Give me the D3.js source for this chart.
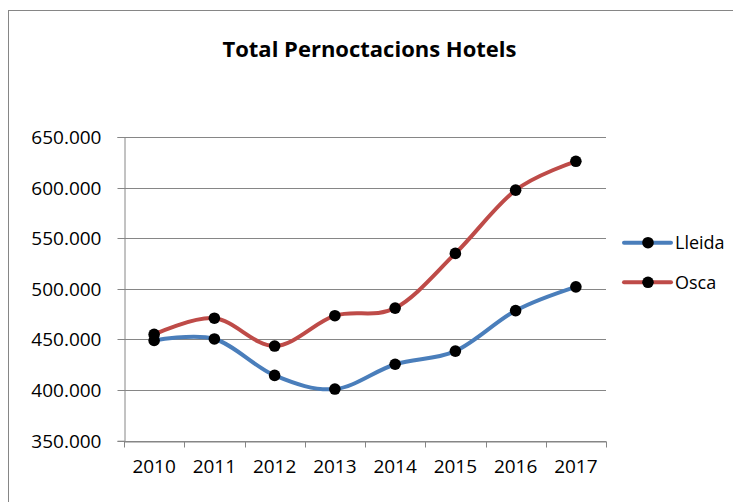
<!DOCTYPE html>
<html><head><meta charset="utf-8">
<script src="https://cdn.jsdelivr.net/npm/d3@7"></script>
<style>body{margin:0;background:#fff}svg{display:block}</style>
</head><body>
<svg id="c" width="733" height="502"></svg>
<script>
const years = ["2010","2011","2012","2013","2014","2015","2016","2017"];
const lleida = [449000, 450500, 414500, 401000, 425500, 438500, 478500, 502000];
const osca = [455000, 471000, 443500, 473500, 481000, 535000, 597500, 626000];
const yTicks = [350000, 400000, 450000, 500000, 550000, 600000, 650000];
const seriesNames = ["Lleida", "Osca"];
const seriesColors = ["#4a7ebb", "#be4b48"];
const title = "Total Pernoctacions Hotels";

(function () {
const svg = d3.select("#c");
const font = "'Open Sans', sans-serif";
svg.append("rect").attr("x", 8.5).attr("y", 10.5).attr("width", 760).attr("height", 520)
  .attr("fill", "#fff").attr("stroke", "#868686").attr("stroke-width", 1);

const pL = 124, pR = 606, pT = 137, pB = 440.7;
const x = d3.scaleBand().domain(years).range([pL, pR]);
const y = d3.scaleLinear().domain([350000, 650000]).range([pB, pT]);
const loc = d3.formatLocale({decimal: ",", thousands: ".", grouping: [3], currency: ["", "€"]});
const fmt = loc.format(",d");

svg.append("g").selectAll("line").data(yTicks).join("line")
  .attr("x1", pL).attr("x2", pR)
  .attr("y1", d => Math.round(y(d)) + 0.5).attr("y2", d => Math.round(y(d)) + 0.5)
  .attr("stroke", "#868686").attr("stroke-width", 1);

const ya = svg.append("g").attr("transform", `translate(${pL + 0.5},0)`)
  .call(d3.axisLeft(y).tickValues(yTicks).tickFormat(fmt).tickSize(7).tickPadding(16));
ya.select(".domain").attr("stroke", "#868686");
ya.selectAll(".tick line").attr("stroke", "#868686");
ya.selectAll(".tick").attr("transform", d => `translate(0,${Math.round(y(d)) + 0.5})`);
ya.selectAll("text").attr("font-family", font).attr("font-size", 19).attr("fill", "#000");

const xa = svg.append("g").attr("transform", `translate(0,${Math.round(pB) + 0.5})`)
  .call(d3.axisBottom(x).tickSize(0).tickPadding(18));
xa.select(".domain").attr("stroke", "#868686");
xa.selectAll("text").attr("font-family", font).attr("font-size", 19).attr("fill", "#000");
const bounds = years.map(d => x(d)).concat([pR]);
xa.append("g").selectAll("line").data(bounds).join("line")
  .attr("x1", d => Math.round(d) + 0.5).attr("x2", d => Math.round(d) + 0.5)
  .attr("y1", 0).attr("y2", 6).attr("stroke", "#868686");

const line = d3.line().x((d, i) => x(years[i]) + x.bandwidth() / 2).y(d => y(d))
  .curve(d3.curveCardinal.tension(0));
[lleida, osca].forEach((s, k) => {
  svg.append("path").datum(s).attr("d", line).attr("fill", "none")
    .attr("stroke", seriesColors[k]).attr("stroke-width", 4).attr("stroke-linecap", "round");
});
[lleida, osca].forEach((s, k) => {
  svg.append("g").selectAll("circle").data(s).join("circle")
    .attr("cx", (d, i) => x(years[i]) + x.bandwidth() / 2).attr("cy", d => y(d))
    .attr("r", 5.8).attr("fill", "#000");
});

const lg = svg.append("g");
seriesNames.forEach((n, k) => {
  const ly = 242.7 + k * 39.6;
  lg.append("line").attr("x1", 624).attr("x2", 671).attr("y1", ly).attr("y2", ly)
    .attr("stroke", seriesColors[k]).attr("stroke-width", 4).attr("stroke-linecap", "round");
  lg.append("circle").attr("cx", 648).attr("cy", ly).attr("r", 5.8).attr("fill", "#000");
  lg.append("text").attr("x", 675).attr("y", ly + 6.5).text(n)
    .attr("font-family", font).attr("font-size", 18).attr("fill", "#000");
});

svg.append("text").attr("x", 369.5).attr("y", 57).attr("text-anchor", "middle")
  .attr("font-family", font).attr("font-weight", "bold").attr("font-size", 22)
  .attr("fill", "#000").text(title);
})();
</script>
</body></html>
